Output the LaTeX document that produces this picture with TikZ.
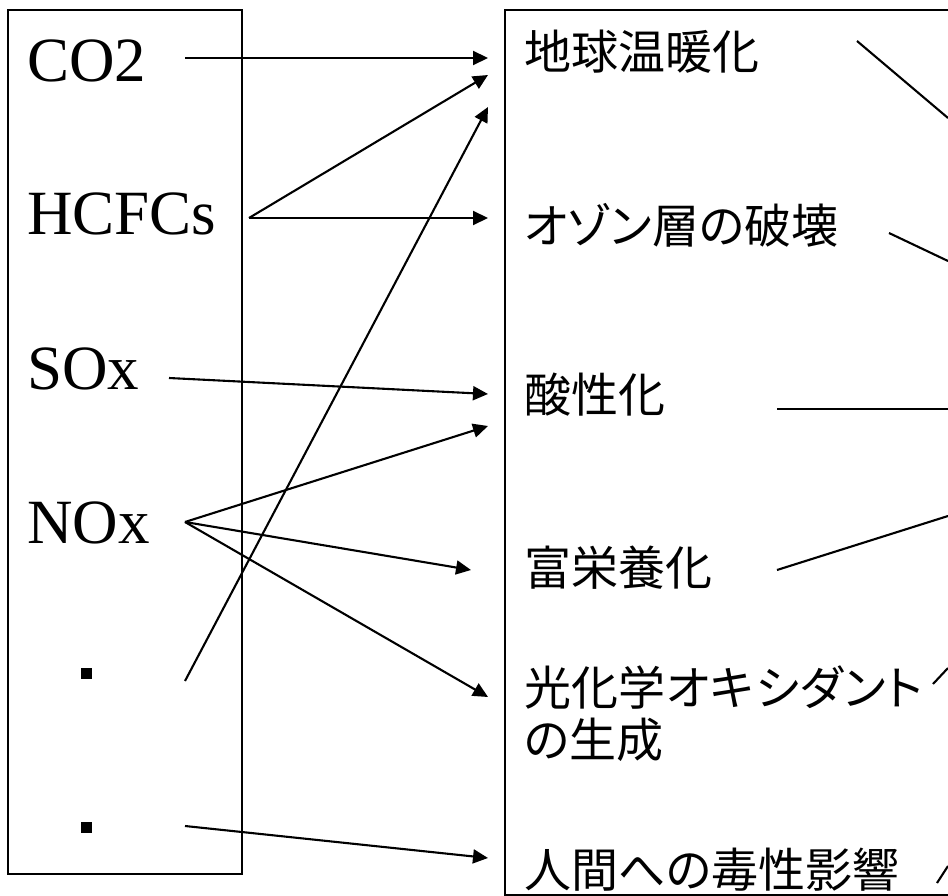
\documentclass[tikz,border=0pt]{standalone}
\usepackage{fontspec}
\setmainfont{Liberation Serif}
\newfontfamily\jp[RawFeature=+palt]{Noto Sans CJK JP}
\usetikzlibrary{arrows.meta}
\newcommand{\ks}{\kern1pt}
\tikzset{
  arr/.style={line width=2.1pt,-{Triangle[length=15pt,width=14pt]}},
  link/.style={line width=2.1pt},
  frame/.style={line width=2.3pt},
  chem/.style={inner sep=0pt,anchor=base west,font=\fontsize{63}{70}\selectfont},
  effect/.style={inner sep=0pt,anchor=west,align=left,font=\jp\fontsize{47}{52}\selectfont},
  bulletsq/.style={fill=black,inner sep=0pt,minimum size=11pt}
}
\begin{document}
\begin{tikzpicture}[x=1pt,y=-1pt]
\useasboundingbox (0,0) rectangle (948,896);
% boxes
\draw[frame] (8,10) rectangle (242,874);
\draw[frame] (948,10) -- (505,10) -- (505,895) -- (948,895);
% left texts
\node[chem] (co2) at (27,82) {CO2};
\node[chem] (hcfc) at (27,235) {HCFCs};
\node[chem] (sox) at (27,389) {SOx};
\node[chem] (nox) at (27,543) {NOx};
\node[bulletsq] (b1) at (86.5,673.5) {};
\node[bulletsq] (b2) at (86.5,827.5) {};
% right texts
\node[effect] (gw) at (524,52) {地球温暖化};
\node[effect] (oz) at (524,225) {オゾン層の破壊};
\node[effect] (ac) at (524,395) {酸性化};
\node[effect] (eu) at (524,568) {富栄養化};
\node[effect] (po) at (524,714) {光化学\ks オ\ks キ\ks シ\ks ダ\ks ン\ks ト\\の生成};
\node[effect] (tx) at (524,870) {人間への毒性影響};
% arrow endpoints
\coordinate (sco2) at (185,58);  \coordinate (tco2) at (488,58);
\coordinate (shc) at (249,218);  \coordinate (thca) at (488,75); \coordinate (thcb) at (488,218);
\coordinate (sb1) at (185,681);  \coordinate (tb1) at (488,107);
\coordinate (sso) at (169,378);  \coordinate (tso) at (488,394);
\coordinate (sno) at (185,522);  \coordinate (tnoa) at (488,426); \coordinate (tnob) at (471,570); \coordinate (tnoc) at (488,697);
\coordinate (sb2) at (185,826);  \coordinate (tb2) at (488,858);
\draw[arr] (sco2) -- (tco2);
\draw[arr] (shc) -- (thca);
\draw[arr] (shc) -- (thcb);
\draw[arr] (sb1) -- (tb1);
\draw[arr] (sso) -- (tso);
\draw[arr] (sno) -- (tnoa);
\draw[arr] (sno) -- (tnob);
\draw[arr] (sno) -- (tnoc);
\draw[arr] (sb2) -- (tb2);
% right links (cut at edge)
\coordinate (rgw) at (857,41);  \coordinate (egw) at (948,118);
\coordinate (roz) at (889,233); \coordinate (eoz) at (948,261);
\coordinate (rac) at (777,409); \coordinate (eac) at (948,409);
\coordinate (reu) at (777,570); \coordinate (eeu) at (948,516);
\coordinate (rpo) at (933,684); \coordinate (epo) at (948,668);
\coordinate (rtx) at (937,883); \coordinate (etx) at (948,866);
\draw[link] (rgw) -- (egw);
\draw[link] (roz) -- (eoz);
\draw[link] (rac) -- (eac);
\draw[link] (reu) -- (eeu);
\draw[link] (rpo) -- (epo);
\draw[link] (rtx) -- (etx);
\end{tikzpicture}
\end{document}
